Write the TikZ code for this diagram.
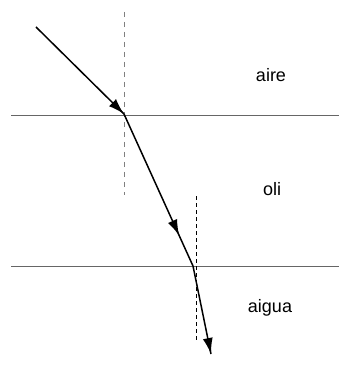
\documentclass[tikz,border=0pt]{standalone}
\usepackage{fontspec}
\setmainfont{Liberation Sans}
\usetikzlibrary{arrows.meta, decorations.markings}

\tikzset{
    interface/.style={gray!80!black, line width=0.8pt},
    ray/.style={line width=1.5pt},
    normalline/.style={dash pattern=on 5pt off 5pt, line width=0.9pt},
    midarrow/.style={postaction={decorate}, decoration={markings,
        mark=at position #1 with {\arrow{Latex[length=16pt,width=10pt]}}}},
    medium/.style={font=\fontsize{18}{20}\selectfont, anchor=base}
}

\begin{document}
\begin{tikzpicture}[x=1pt, y=-1pt]
    \useasboundingbox (0,0) rectangle (339,371);

    % Points of the ray
    \coordinate (src) at (36,27);
    \coordinate (hitA) at (124,114);
    \coordinate (hitB) at (193,266);
    \coordinate (dst) at (211,354);

    % Interfaces
    \draw[interface] (11,115) -- (339,115);
    \draw[interface] (11,266) -- (339,266);

    % Normals
    \draw[normalline, gray] (124,12) -- (124,195);
    \draw[normalline, dash pattern=on 4pt off 3pt] (196,196) -- (196,340);

    % Media
    \node[medium] (aire) at (271,82) {aire};
    \node[medium] (oli) at (272,195) {oli};
    \node[medium] (aigua) at (270,312) {aigua};

    % Ray
    \draw[ray, midarrow=1] (src) -- (hitA);
    \draw[ray, midarrow=0.8] (hitA) -- (hitB);
    \draw[ray, midarrow=1] (hitB) -- (dst);
\end{tikzpicture}
\end{document}
